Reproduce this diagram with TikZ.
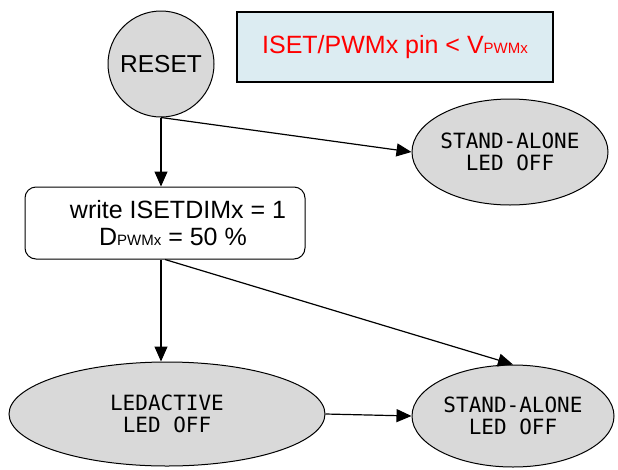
\documentclass[tikz,border=0pt]{standalone}
\usepackage{fontspec}
\setmainfont{Liberation Sans}
\newfontfamily\gothfont{DejaVu Sans Mono}
\usetikzlibrary{shapes.geometric,arrows.meta}
\definecolor{boxblue}{RGB}{220,236,242}
\definecolor{stategray}{RGB}{217,217,217}
\newcommand{\smallsub}[1]{{\fontsize{15}{15}\selectfont #1}}
\tikzset{
  conn/.style={line width=1.2pt,-{Triangle[length=15pt,width=13pt]}},
  stateell/.style={ellipse,draw,line width=1pt,fill=stategray,inner sep=0pt},
  stext/.style={align=center,font=\gothfont\fontsize{21}{22}\selectfont},
}
\begin{document}
\begin{tikzpicture}[x=1pt,y=-1pt]
\useasboundingbox (0,0) rectangle (618,469);
% RESET
\node[circle,draw,line width=1pt,fill=stategray,minimum size=106pt,inner sep=0pt,
      font=\fontsize{24.5}{26}\selectfont] (reset) at (161,64) {RESET};
% condition box
\node[draw,line width=1.2pt,fill=boxblue,minimum width=316pt,minimum height=70pt,
      inner sep=0pt,text=red,font=\fontsize{25}{26}\selectfont] (cond) at (395,47)
      {ISET/PWMx pin < V\smallsub{PWMx}};
% write box
\node[draw,line width=1pt,rounded corners=11pt,fill=white,minimum width=280pt,minimum height=72pt,
      inner sep=0pt,align=center,font=\fontsize{25}{27}\selectfont] (wbox) at (165,223)
      {\hspace*{26pt}write ISETDIMx = 1\\ \hspace*{16pt}D\smallsub{PWMx} = 50 \%};
% states
\node[stateell,minimum width=196pt,minimum height=106pt] (sa1) at (510,152) {};
\node[stext] (sa1t) at (sa1.center) {STAND-ALONE\\LED OFF};
\node[stateell,minimum width=316pt,minimum height=104pt] (led) at (167,414) {};
\node[stext] (ledt) at (led.center) {LEDACTIVE\\LED OFF};
\node[stateell,minimum width=202pt,minimum height=102pt] (sa2) at (513,416) {};
\node[stext] (sa2t) at (sa2.center) {STAND-ALONE\\LED OFF};
% connectors
\draw[conn] (reset.south) -- (reset.south |- wbox.north);
\draw[conn] (reset.south) -- (sa1.west);
\draw[conn] (reset.south |- wbox.south) -- (reset.south |- led.north);
\draw[conn] (wbox.south) -- (sa2.north);
\draw[conn] (led.east) -- (sa2.west);
\end{tikzpicture}
\end{document}
